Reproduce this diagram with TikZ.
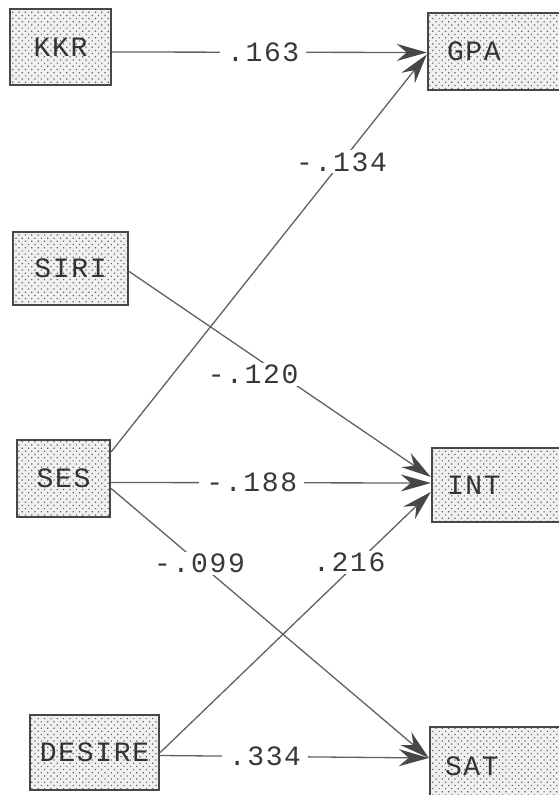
\documentclass[tikz,border=0pt]{standalone}
\usepackage{fontspec}
\setmonofont[LetterSpace=6]{Liberation Mono}
\usetikzlibrary{arrows.meta,patterns.meta}
\begin{document}
\begin{tikzpicture}[x=1pt,y=-1pt,
  var/.style={rectangle,draw=black!72,line width=2.4pt,preaction={fill=black!6},
    pattern={Dots[distance=4.5pt,radius=0.85pt,angle=45]},pattern color=black!62,
    font=\fontsize{28}{30}\selectfont\ttfamily,text=black!80,inner sep=0pt},
  path/.style={draw=black!62,line width=1.3pt,-{Stealth[length=30pt,width=17pt,inset=10pt,color=black!72]}},
  coef/.style={fill=white,inner xsep=7pt,inner ysep=2pt,font=\fontsize{28}{30}\selectfont\ttfamily,text=black!78}]
\useasboundingbox[fill=white] (0,0) rectangle (558,795);
\node[var,minimum width=101pt,minimum height=76pt] (KKR) at (60.5,47) {KKR};
\node[var,minimum height=77pt,text width=104pt,align=left,inner xsep=19pt] (GPA) at (499,51.5) {GPA};
\node[var,minimum width=115pt,minimum height=73pt] (SIRI) at (70.5,268.5) {SIRI};
\node[var,minimum width=93pt,minimum height=77pt] (SES) at (63.5,478.5) {SES};
\node[var,minimum height=74pt,text width=108pt,align=left,inner xsep=15pt] (INT) at (501,485) {INT};
\node[var,minimum width=129pt,minimum height=75pt] (DESIRE) at (94.5,752.5) {DESIRE};
\node[var,minimum height=78pt,text width=110pt,align=left,inner xsep=15pt] (SAT) at (500,766) {SAT};
\draw[path] ([yshift=-5pt]KKR.east) -- ([yshift=-1pt]GPA.west) node[coef,pos=0.48] {.163};
\draw[path] ([yshift=-13pt]SES.north east) -- ([yshift=-3pt]GPA.west) node[coef,pos=0.73] {-.134};
\draw[path] ([yshift=-3pt]SIRI.east) -- ([yshift=8pt]INT.west) node[coef,pos=0.5] {-.120\hphantom{...}};
\draw[path] ([yshift=-4pt]SES.east) -- ([yshift=2pt]INT.west) node[coef,pos=0.44] {-.188};
\draw[path] ([yshift=-10pt]SES.east) -- ([yshift=8pt]SAT.west) node[coef,pos=0.278] {-.099};
\draw[path] (DESIRE.east) -- ([yshift=-7pt]INT.west) node[coef,pos=0.73] {.216\hphantom{.}};
\draw[path] ([yshift=-3pt]DESIRE.east) -- ([yshift=8pt]SAT.west) node[coef,pos=0.39] {.334};
\end{tikzpicture}
\end{document}
